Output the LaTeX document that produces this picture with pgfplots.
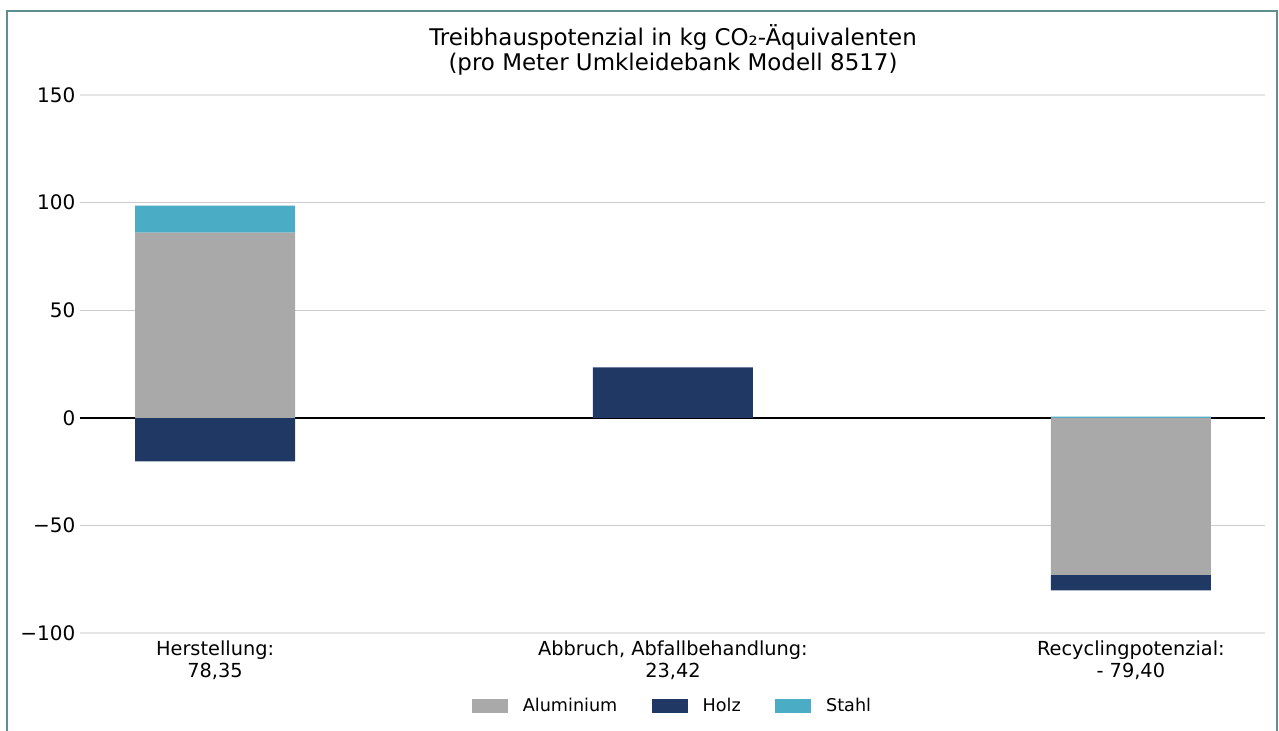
\documentclass[border=0pt]{standalone}
\usepackage{pgfplots}
\pgfplotsset{compat=1.18}
\usepackage{fontspec}
\setmainfont{DejaVu Sans}
\definecolor{alu}{HTML}{A9A9A9}
\definecolor{holz}{HTML}{203864}
\definecolor{stahl}{HTML}{4BACC6}
\definecolor{frame}{HTML}{5E8E90}
\definecolor{gridc}{HTML}{CCCCCC}
\definecolor{gridl}{HTML}{E6E6E6}
\begin{document}
\begin{tikzpicture}
\path[use as bounding box] (0pt,0pt) rectangle (959.25pt,548.25pt);
\begin{axis}[
  at={(60pt,73.5pt)}, anchor=south west,
  scale only axis, width=888.75pt, height=403.5pt,
  xmin=-0.295, xmax=2.293, ymin=-100, ymax=150,
  ybar stacked, stack negative=separate, bar width=120pt,
  axis line style={draw=none},
  major tick length=0pt,
  xtick={0,1,2},
  xticklabels={{Herstellung:\\78,35},{Abbruch, Abfallbehandlung:\\23,42},{Recyclingpotenzial:\\- 79,40}},
  xticklabel style={align=center, font=\fontsize{14.5}{16}\selectfont, inner sep=6pt},
  ytick={-50,0,50,100},
  yticklabels={−50,0,50,100},
  extra y ticks={-100,150},
  extra y tick labels={−100,150},
  extra y tick style={grid style={gridl, line width=0.8pt}},
  yticklabel style={font=\fontsize{15}{16}\selectfont},
  ymajorgrids, grid style={gridc, line width=0.8pt},
  clip=false,
  legend columns=3,
  legend style={at={(0.5004,-0.1357)}, anchor=center, draw=none,
    font=\fontsize{13.2}{15}\selectfont,
    /tikz/every odd column/.append style={column sep=9pt},
    /tikz/every even column/.append style={column sep=24pt}},
  legend image code/.code={\fill[#1] (0pt,-5.25pt) rectangle (27pt,5.25pt);},
]
\addplot[fill=alu, draw=none] coordinates {(0,86.0) (1,0) (2,-73.0)};
\addplot[fill=holz, draw=none] coordinates {(0,-20.25) (1,23.42) (2,-7.2)};
\addplot[fill=stahl, draw=none] coordinates {(0,12.6) (1,0) (2,0.6)};
\legend{Aluminium, Holz, Stahl}
\draw[black, line width=1.1pt] (rel axis cs:0,0.4) -- (rel axis cs:1,0.4);
\end{axis}
\node[align=center, font=\fontsize{17.2}{18.75}\selectfont] at (504.75pt,511.1pt) {Treibhauspotenzial in kg CO₂-Äquivalenten\\(pro Meter Umkleidebank Modell 8517)};
\draw[frame, line width=1.2pt] (5.25pt,-10pt) rectangle (957.75pt,540pt);
\end{tikzpicture}
\end{document}
